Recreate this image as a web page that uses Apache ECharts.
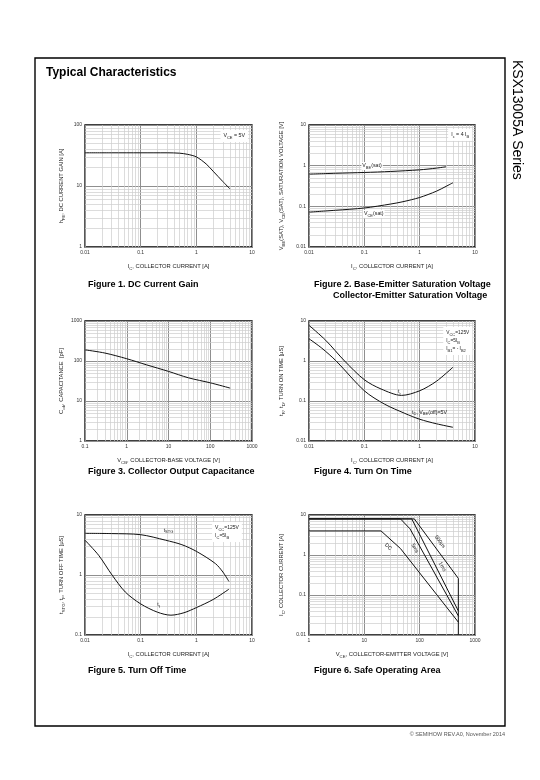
<!DOCTYPE html>
<html><head><meta charset="utf-8">
<script src="https://cdn.jsdelivr.net/npm/echarts@6/dist/echarts.min.js"></script>
<style>html,body{margin:0;padding:0;background:#fff}#c{width:540px;height:780px}</style>
</head><body><div id="c"></div>
<script>
// ---------- DATA ----------
// Figure 1: DC current gain
const hfeIc = [0.01, 0.03, 0.1, 0.3, 0.5, 0.7, 1, 1.5, 2, 3, 4];
const hfe   = [35, 35, 35, 35, 34.5, 33, 30, 23, 17.5, 11.8, 9];
// Figure 2: saturation voltages
const vbeIc = [0.01, 0.03, 0.1, 0.3, 1, 2, 3];
const vbe   = [0.62, 0.65, 0.68, 0.72, 0.79, 0.87, 0.94];
const vceIc = [0.01, 0.03, 0.1, 0.3, 0.5, 1, 2, 3, 4];
const vce   = [0.072, 0.08, 0.091, 0.114, 0.13, 0.165, 0.235, 0.31, 0.38];
// Figure 3: output capacitance
const vcb = [0.1, 0.3, 1, 3, 10, 30, 100, 300];
const cob = [190, 158, 114, 80, 55, 38, 28.5, 21];
// Figure 4: turn on time
const trIc = [0.01, 0.02, 0.044, 0.1, 0.2, 0.47, 1, 2, 4];
const tr   = [7.8, 3.3, 1.0, 0.34, 0.2, 0.138, 0.18, 0.31, 0.7];
const tdIc = [0.01, 0.017, 0.031, 0.1, 0.23, 0.54, 1, 2, 4];
const td   = [3.6, 2.1, 1.0, 0.18, 0.084, 0.049, 0.035, 0.027, 0.022];
// Figure 5: turn off time
const tstgIc = [0.01, 0.03, 0.1, 0.28, 0.55, 1, 2.2, 3, 3.85];
const tstg   = [4.95, 4.9, 4.7, 3.8, 3.2, 2.48, 1.55, 1.12, 0.78];
const tfIc = [0.01, 0.0176, 0.0306, 0.053, 0.1, 0.2, 0.35, 0.6, 1, 2, 3.85];
const tf   = [3.8, 2.13, 1.0, 0.52, 0.33, 0.24, 0.214, 0.235, 0.286, 0.39, 0.58];
// Figure 6: safe operating area
const dcV = [1, 20, 45, 500];          const dcI = [4, 4, 1.45, 0.021];
const ms5V = [1, 45, 67, 500];         const ms5I = [8, 8, 4.5, 0.03];
const ms1V = [1, 72, 500];             const ms1I = [8, 8, 0.04];
const us500V = [1, 80, 500, 500];      const us500I = [8, 8, 0.26, 0.01];

// axis ranges (decades)
const xRanges = [[0.01, 10], [0.01, 10], [0.1, 1000], [0.01, 10], [0.01, 10], [1, 1000]];
const yRanges = [[1, 100], [0.01, 10], [1, 1000], [0.01, 10], [0.1, 10], [0.01, 10]];
const xNames = ['I{s|C}, COLLECTOR CURRENT [A]', 'I{s|C}, COLLECTOR CURRENT [A]',
  'V{s|CB}, COLLECTOR-BASE VOLTAGE [V]', 'I{s|C}, COLLECTOR CURRENT [A]',
  'I{s|C}, COLLECTOR CURRENT [A]', 'V{s|CE}, COLLECTOR-EMITTER VOLTAGE [V]'];
const yNames = ['h{s|FE}, DC CURRENT GAIN [A]', 'V{s|BE}(SAT), V{s|CE}(SAT), SATURATION VOLTAGE [V]',
  'C{s|ob}, CAPACITANCE  [pF]', 't{s|R}, t{s|D}, TURN ON TIME [\u03bcS]',
  't{s|STG}, t{s|F}, TURN OFF TIME [\u03bcS]', 'I{s|C}, COLLECTOR CURRENT [A]'];
const captions = ['Figure 1. DC Current Gain', 'Figure 2. Base-Emitter Saturation Voltage',
  'Collector-Emitter Saturation Voltage', 'Figure 3. Collector Output Capacitance',
  'Figure 4. Turn On Time', 'Figure 5. Turn Off Time', 'Figure 6. Safe Operating Area'];

// ---------- LAYOUT ----------
const FONT = '"Liberation Sans", Arial, Helvetica, sans-serif';
const gridBoxes = [
  {left: 85, top: 125, width: 167, height: 122},
  {left: 309, top: 125, width: 166, height: 122},
  {left: 85, top: 321, width: 167, height: 120},
  {left: 309, top: 321, width: 166, height: 120},
  {left: 85, top: 515, width: 167, height: 120},
  {left: 309, top: 515, width: 166, height: 120}
];
const yGaps = [19, 23, 19, 23, 19, 23];
const RICH = {s: {fontSize: 4.3, lineHeight: 9, verticalAlign: 'bottom', fontFamily: FONT, color: '#222'}};
const RICHL = {s: {fontSize: 4, lineHeight: 8, verticalAlign: 'bottom', fontFamily: FONT, color: '#222'}};

function minorVals(r) {
  const out = [];
  const e0 = Math.round(Math.log10(r[0])), e1 = Math.round(Math.log10(r[1]));
  for (let e = e0; e < e1; e++) for (let k = 2; k <= 9; k++) out.push(+(k * Math.pow(10, e)).toPrecision(3));
  return out;
}
const fmt = v => String(+(+v).toPrecision(6));

const grid = gridBoxes.map(g => Object.assign({show: true, borderColor: '#000', borderWidth: 1.3, backgroundColor: '#fff', z: 0}, g));
const xAxis = xRanges.map((r, i) => ({
  type: 'log', logBase: 10, gridIndex: i, min: r[0], max: r[1],
  name: xNames[i], nameLocation: 'middle', nameGap: 15,
  nameTextStyle: {fontSize: 5.8, color: '#222', fontFamily: FONT, lineHeight: 9, rich: RICH},
  axisLine: {show: false}, axisTick: {show: false},
  axisLabel: {fontSize: 5, color: '#333', margin: 3, formatter: fmt, showMinLabel: true, showMaxLabel: true, fontFamily: FONT},
  splitLine: {show: true, lineStyle: {color: '#8f8f8f', width: 1}}
}));
const yAxis = yRanges.map((r, i) => ({
  type: 'log', logBase: 10, gridIndex: i, min: r[0], max: r[1],
  name: yNames[i], nameLocation: 'middle', nameGap: yGaps[i], nameRotate: 90,
  nameTextStyle: {fontSize: 5.8, color: '#222', fontFamily: FONT, lineHeight: 9, rich: RICH},
  axisLine: {show: false}, axisTick: {show: false},
  axisLabel: {fontSize: 5, color: '#333', margin: 3, formatter: fmt, showMinLabel: true, showMaxLabel: true, fontFamily: FONT},
  splitLine: {show: true, lineStyle: {color: '#8f8f8f', width: 1}}
}));

const series = [];
// minor grid lines (through axis scales)
for (let i = 0; i < 6; i++) {
  series.push({
    type: 'line', xAxisIndex: i, yAxisIndex: i, data: [], z: 1, silent: true, animation: false,
    markLine: {
      silent: true, animation: false, symbol: ['none', 'none'], label: {show: false},
      lineStyle: {color: '#cdcdcd', width: 0.7, type: 'solid'},
      data: minorVals(xRanges[i]).map(v => ({xAxis: v})).concat(minorVals(yRanges[i]).map(v => ({yAxis: v})))
    }
  });
}
function lbl(coord, text, opt) {
  return {
    coord: coord, symbol: 'circle', symbolSize: 0.01, itemStyle: {color: 'rgba(0,0,0,0)'},
    label: Object.assign({show: true, position: 'inside', formatter: text, fontSize: 5.3, color: '#222',
      fontFamily: FONT, lineHeight: 8, rich: RICHL}, opt || {})
  };
}
function curve(i, xs, ys, smooth, labels) {
  const s = {
    type: 'line', xAxisIndex: i, yAxisIndex: i, data: xs.map((x, k) => [x, ys[k]]),
    symbol: 'none', showSymbol: false, smooth: smooth, z: 5, silent: true, animation: false,
    lineStyle: {color: '#111', width: 1}
  };
  if (labels) s.markPoint = {silent: true, animation: false, z: 6, data: labels};
  series.push(s);
}
const BOX = {backgroundColor: '#fff', padding: [2, 3]};
curve(0, hfeIc, hfe, 0.3, [lbl([4.8, 66], 'V{s|CE} = 5V', BOX)]);
curve(1, vbeIc, vbe, 0.3, [lbl([0.138, 0.98], 'V{s|BE}(sat)', {backgroundColor: '#fff', padding: [0, 1]}),
  lbl([5.4, 5.7], 'I{s|c} = 4 I{s|B}', BOX)]);
curve(1, vceIc, vce, 0.3, [lbl([0.148, 0.065], 'V{s|CE}(sat)', {backgroundColor: '#fff', padding: [0, 1]})]);
curve(2, vcb, cob, 0.3);
curve(3, trIc, tr, 0.3, [lbl([0.43, 0.168], 't{s|r}'),
  lbl([2.67, 3.16], 'V{s|CC}=125V\nI{s|C}=5I{s|B}\nI{s|B1}= - I{s|B2}',
    {align: 'left', verticalAlign: 'middle', backgroundColor: '#fff', padding: [2, 3], fontSize: 4.8, lineHeight: 7})]);
curve(3, tdIc, td, 0.3, [lbl([1.51, 0.052], 't{s|D}, V{s|BE}(off)=5V')]);
curve(4, tstgIc, tstg, 0.3, [lbl([0.316, 5.6], 't{s|STG}'),
  lbl([1.92, 5.2], 'V{s|CC}=125V\nI{s|C}=5I{s|B}',
    {align: 'left', verticalAlign: 'middle', backgroundColor: '#fff', padding: [2, 3], fontSize: 5, lineHeight: 7})]);
curve(4, tfIc, tf, 0.3, [lbl([0.21, 0.316], 't{s|f}')]);
curve(5, dcV, dcI, false, [lbl([27, 1.6], 'DC', {rotate: -42})]);
curve(5, ms5V, ms5I, false, [lbl([82, 1.47], '5ms', {rotate: -60})]);
curve(5, ms1V, ms1I, false, [lbl([256, 0.51], '1ms', {rotate: -60})]);
curve(5, us500V, us500I, false, [lbl([232, 2.15], '500\u03bcs', {rotate: -54})]);

const capStyle = {fontSize: 9, fontWeight: 'bold', fontFamily: FONT, fill: '#000', textVerticalAlign: 'middle'};
const capPos = [[88, 285], [314, 285], [333, 296], [88, 472], [314, 472], [88, 671], [314, 671]];
const graphic = [
  {type: 'rect', shape: {x: 35, y: 58, width: 470, height: 668}, style: {fill: 'none', stroke: '#000', lineWidth: 1.4}, z: 100},
  {type: 'text', x: 46, y: 73, style: {text: 'Typical Characteristics', fontSize: 12, fontWeight: 'bold', fontFamily: FONT, fill: '#000', textVerticalAlign: 'middle'}},
  {type: 'text', x: 517, y: 60, rotation: -Math.PI / 2, style: {text: 'KSX13005A Series', fontSize: 14, fontFamily: FONT, fill: '#000', textVerticalAlign: 'middle', textAlign: 'left'}},
  {type: 'text', x: 505, y: 734, style: {text: '\u00a9 SEMIHOW REV.A0, November 2014', fontSize: 5.5, fontFamily: FONT, fill: '#555', textAlign: 'right', textVerticalAlign: 'middle'}}
].concat(captions.map((c, k) => ({type: 'text', x: capPos[k][0], y: capPos[k][1], style: Object.assign({text: c}, capStyle)})));

const chart = echarts.init(document.getElementById('c'), null, {renderer: 'canvas', width: 540, height: 780});
chart.setOption({
  backgroundColor: '#fff', animation: false,
  textStyle: {fontFamily: FONT},
  grid: grid, xAxis: xAxis, yAxis: yAxis, series: series, graphic: graphic
});
</script></body></html>
